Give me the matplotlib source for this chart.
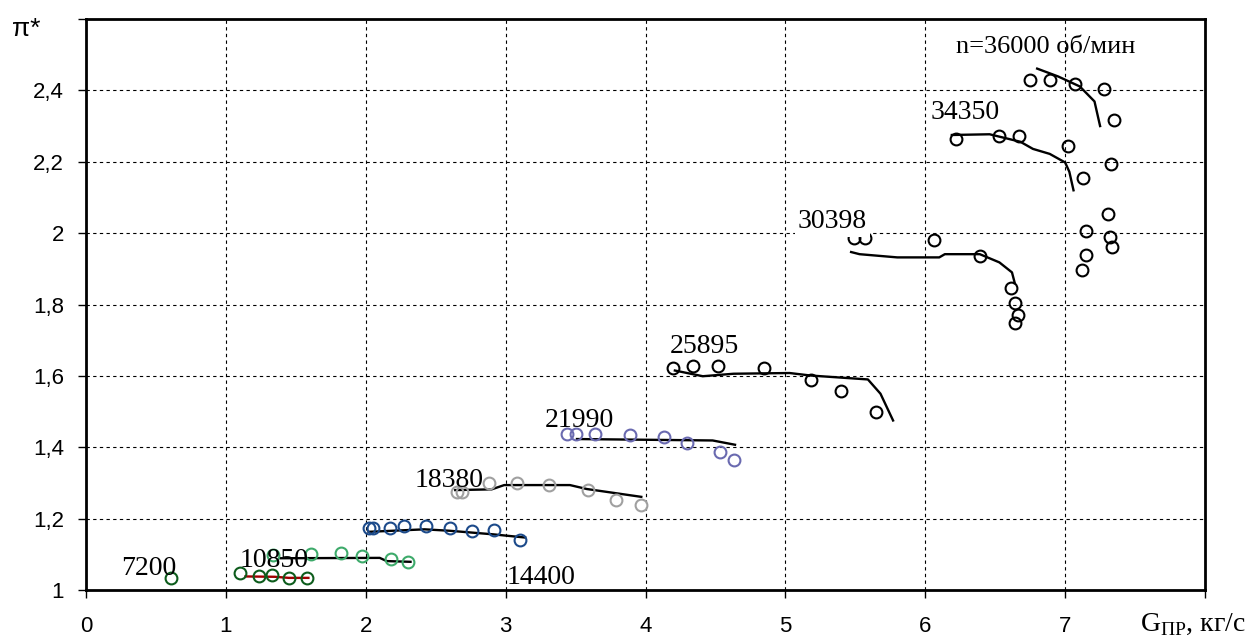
import numpy as np
import matplotlib
matplotlib.use('Agg')
import matplotlib.pyplot as plt

plt.rcParams['font.family'] = ['Liberation Sans', 'DejaVu Sans']
plt.rcParams['mathtext.fontset'] = 'custom'
plt.rcParams['mathtext.rm'] = 'Liberation Serif'

# measured points (G_pr, pi*) per speed line
x_7200 = [0.61]
y_7200 = [1.033]

x_10850 = [1.10, 1.24, 1.33, 1.45, 1.58]
y_10850 = [1.049, 1.039, 1.041, 1.033, 1.033]
fx_10850 = [1.14, 1.35, 1.45, 1.59]
fy_10850 = [1.038, 1.037, 1.034, 1.034]

x_14400 = [1.34, 1.61, 1.82, 1.97, 2.18, 2.30]
y_14400 = [1.097, 1.101, 1.103, 1.095, 1.088, 1.079]
fx_14400 = [1.39, 2.10, 2.15, 2.32]
fy_14400 = [1.089, 1.090, 1.081, 1.079]

x_blue = [2.02, 2.05, 2.17, 2.27, 2.43, 2.60, 2.76, 2.92, 3.10]
y_blue = [1.173, 1.173, 1.173, 1.180, 1.180, 1.173, 1.166, 1.168, 1.140]
fx_blue = [2.02, 2.42, 2.60, 2.91, 3.14]
fy_blue = [1.163, 1.170, 1.166, 1.156, 1.147]

x_18380 = [2.65, 2.69, 2.88, 3.08, 3.31, 3.59, 3.79, 3.97]
y_18380 = [1.276, 1.276, 1.299, 1.299, 1.294, 1.280, 1.252, 1.239]
fx_18380 = [2.64, 2.90, 2.99, 3.46, 3.58, 3.97]
fy_18380 = [1.280, 1.282, 1.294, 1.294, 1.283, 1.261]

x_21990 = [3.44, 3.50, 3.64, 3.89, 4.13, 4.30, 4.53, 4.63]
y_21990 = [1.437, 1.437, 1.437, 1.433, 1.428, 1.411, 1.386, 1.364]
fx_21990 = [3.51, 4.00, 4.48, 4.64]
fy_21990 = [1.423, 1.421, 1.419, 1.407]

x_25895 = [4.20, 4.34, 4.52, 4.85, 5.18, 5.40, 5.65]
y_25895 = [1.622, 1.629, 1.629, 1.622, 1.589, 1.557, 1.498]
fx_25895 = [4.21, 4.41, 4.63, 5.03, 5.18, 5.59, 5.68, 5.77]
fy_25895 = [1.615, 1.599, 1.606, 1.608, 1.601, 1.590, 1.550, 1.475]

x_30398 = [5.49, 5.57, 6.06, 6.39, 6.61, 6.64, 6.66, 6.64]
y_30398 = [1.985, 1.985, 1.980, 1.935, 1.847, 1.804, 1.770, 1.748]
fx_30398 = [5.47, 5.53, 5.80, 6.10, 6.14, 6.39, 6.53, 6.62, 6.64]
fy_30398 = [1.947, 1.941, 1.932, 1.932, 1.941, 1.941, 1.918, 1.890, 1.860]

x_34350 = [6.22, 6.53, 6.67, 7.02, 7.13]
y_34350 = [2.263, 2.272, 2.272, 2.244, 2.154]
fx_34350 = [6.19, 6.46, 6.68, 6.77, 6.89, 7.00, 7.03, 7.06]
fy_34350 = [2.275, 2.277, 2.256, 2.236, 2.222, 2.198, 2.172, 2.120]

x_36000 = [6.75, 6.89, 7.07, 7.28, 7.35, 7.33, 7.31, 7.32, 7.335, 7.146, 7.146, 7.12]
y_36000 = [2.430, 2.428, 2.418, 2.404, 2.317, 2.193, 2.053, 1.990, 1.960, 2.006, 1.938, 1.898]
fx_36000 = [6.80, 6.95, 7.105, 7.21, 7.25]
fy_36000 = [2.461, 2.439, 2.411, 2.369, 2.300]

speed_labels = ['7200', '10850', '14400', '18380', '21990', '25895', '30398', '34350',
                'n=36000 об/мин']
label_x = [0.25, 1.10, 3.01, 2.35, 3.28, 4.17, 5.09, 6.04, 6.22]
label_y = [1.042, 1.065, 1.017, 1.289, 1.456, 1.663, 2.014, 2.320, 2.506]

xticks = [0, 1, 2, 3, 4, 5, 6, 7, 8]
yticks = [1.0, 1.2, 1.4, 1.6, 1.8, 2.0, 2.2, 2.4, 2.6]

fig = plt.figure(figsize=(12.58, 6.44), dpi=100)
ax = fig.add_axes([86 / 1258, 1 - 590 / 644, 1119 / 1258, 571 / 644])

mk = dict(marker='o', mfc='none', ms=8.5, mew=1.5, linestyle='none', zorder=4)
fit = dict(lw=1.7, zorder=3)

ax.plot(fx_10850, fy_10850, color='#a00000', **fit)
ax.plot(fx_14400, fy_14400, color='black', **fit)
ax.plot(fx_blue, fy_blue, color='black', **fit)
ax.plot(fx_18380, fy_18380, color='black', **fit)
ax.plot(fx_21990, fy_21990, color='black', **fit)
ax.plot(fx_25895, fy_25895, color='black', **fit)
ax.plot(fx_30398, fy_30398, color='black', **fit)
ax.plot(fx_34350, fy_34350, color='black', **fit)
ax.plot(fx_36000, fy_36000, color='black', **fit)

ax.plot(x_7200, y_7200, mec='#0d5c1c', **mk)
ax.plot(x_10850, y_10850, mec='#0d5c1c', **mk)
ax.plot(x_14400, y_14400, mec='#3daa6a', **mk)
ax.plot(x_blue, y_blue, mec='#1c4a8a', **mk)
ax.plot(x_18380, y_18380, mec='#a0a0a0', **mk)
ax.plot(x_21990, y_21990, mec='#6a6ab0', **mk)
ax.plot(x_25895, y_25895, mec='black', **mk)
ax.plot(x_30398, y_30398, mec='black', **mk)
ax.plot(x_34350, y_34350, mec='black', **mk)
ax.plot(x_36000, y_36000, mec='black', **mk)

for i in range(len(speed_labels)):
    size = 19 if i == len(speed_labels) - 1 else 20
    box = None
    if speed_labels[i] == '30398':
        box = dict(facecolor='white', edgecolor='none', pad=2)
    ax.text(label_x[i], label_y[i], speed_labels[i], family='Liberation Serif',
            fontsize=size, ha='left', va='baseline', zorder=5, bbox=box)

ax.set_xlim(0, 8)
ax.set_ylim(1, 2.6)
ax.set_xticks(xticks)
ax.set_xticklabels([str(t) for t in xticks[:-1]] + [''])
ax.set_yticks(yticks)
ylabs = [('%g' % t).replace('.', ',') for t in yticks]
ylabs[-1] = ''
ax.set_yticklabels(ylabs)

ax.grid(True, color='black', lw=0.8, linestyle=(0, (3, 3)))
ax.set_axisbelow(True)
for s in ax.spines.values():
    s.set_linewidth(2)
ax.tick_params(axis='x', direction='out', length=6, width=1, pad=13, labelsize=16)
ax.tick_params(axis='y', direction='out', length=6, width=1, pad=10, labelsize=16)

fig.text(12 / 1258, 1 - 36 / 644, 'π*', fontsize=19, ha='left', va='baseline')
fig.text(1140 / 1258, 1 - 631 / 644, r'$\mathrm{G}_{\mathrm{ПР}}$, кг/с',
         family='Liberation Serif', fontsize=20, ha='left', va='baseline')

fig.savefig('out.png', dpi=100)
